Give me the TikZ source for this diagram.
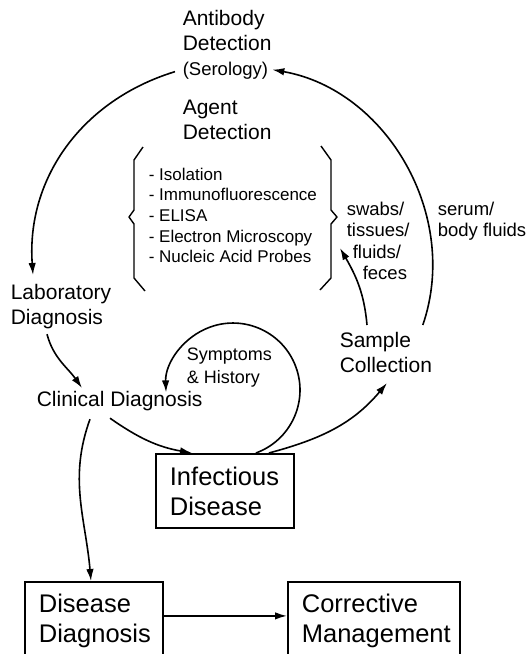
\documentclass[tikz,border=0pt]{standalone}
\usepackage{fontspec}
\setmainfont{Liberation Sans}
\usetikzlibrary{arrows.meta}

\begin{document}
\begin{tikzpicture}[x=1pt,y=1pt,line width=1.6pt,>={Latex[length=12pt,width=7.5pt]},
  txt/.style={inner sep=0pt,align=left,anchor=north west,font=\fontsize{21}{25}\selectfont},
  nota/.style={txt,font=\fontsize{18.5}{21.5}\selectfont},
  caja/.style={draw,line width=1.8pt,anchor=north west,align=left,inner xsep=14pt,inner ysep=0pt,
    font=\fontsize{25.5}{30}\selectfont}]
  \useasboundingbox (0,0) rectangle (528,-654);
  % textos de arriba
  \node[txt] (sero) at (182,-9) {Antibody\\Detection\\{\fontsize{18.5}{25}\selectfont(Serology)}};
  \node[txt] (agent) at (182,-99) {Agent\\Detection};
  \node[txt,font=\fontsize{17}{20.7}\selectfont] (metodos) at (148,-167)
    {- Isolation\\- Immunofluorescence\\- ELISA\\- Electron Microscopy\\- Nucleic Acid Probes};
  % llaves
  \draw[line width=1.4pt,line join=round] (143,-147) -- (134,-160) -- (134,-210) -- (129,-217)
    -- (134,-224) -- (134,-278) -- (145,-291);
  \draw[line width=1.4pt,line join=round] (321,-146) -- (331,-160) -- (331,-210) -- (337,-217)
    -- (331,-224) -- (331,-278) -- (320,-290);
  % muestras
  \node[nota] (muestras) at (346,-201) {swabs/\\tissues/\\\hspace*{6pt}fluids/\\\hspace*{16pt}feces};
  \node[nota] (suero) at (437,-201) {serum/\\body fluids};
  % diagnosticos
  \node[txt] (lab) at (10,-283) {Laboratory\\Diagnosis};
  \node[txt] (clin) at (36,-390) {Clinical Diagnosis};
  \node[txt,font=\fontsize{18}{23}\selectfont] (sint) at (186,-347) {Symptoms\\\& History};
  \node[txt] (samp) at (339,-331) {Sample\\Collection};
  % cajas
  \node[caja,text width=110pt,minimum height=74pt] (inf) at (155,-453) {Infectious\\Disease};
  \node[caja,text width=110pt,minimum height=78pt] (dis) at (24,-581) {Disease\\Diagnosis};
  \node[caja,text width=144pt,minimum height=78pt] (cor) at (287,-581) {Corrective\\Management};
  % ciclo exterior
  \draw[->] ([shift={(-7,8)}]sero.south west) to[out=197,in=94] ([shift={(23,8)}]lab.north west);
  \draw[->] ([shift={(-10,6)}]samp.north east) to[out=71,in=-10] ([shift={(0,10)}]sero.south east);
  % laboratorio -> clinico
  \draw[->] ([shift={(37,-5)}]lab.south west) to[out=-75,in=125] ([shift={(46,2)}]clin.north west);
  % sintomas e historia
  \draw[->] ([xshift=31]inf.north) arc[start angle=-70,end angle=182,radius=67];
  % clinico -> enfermedad, clinico -> diagnostico
  \draw[->] ([shift={(74,-7)}]clin.south west) to[out=-35,in=170] ([xshift=37]inf.north west);
  \draw[->] ([shift={(54,-8)}]clin.south west) to[out=-110,in=95] ([xshift=67]dis.north west);
  % enfermedad -> muestra -> laboratorio
  \draw[->] ([xshift=44]inf.north) to[out=15,in=-130] ([shift={(48,-10)}]samp.south west);
  \draw[->] ([shift={(28,6)}]samp.north west) to[out=95,in=-60] ([shift={(-6,-47)}]muestras.north west);
  % diagnostico -> manejo
  \draw[->] ([yshift=5]dis.east) -- ([yshift=5]cor.west);
\end{tikzpicture}
\end{document}
